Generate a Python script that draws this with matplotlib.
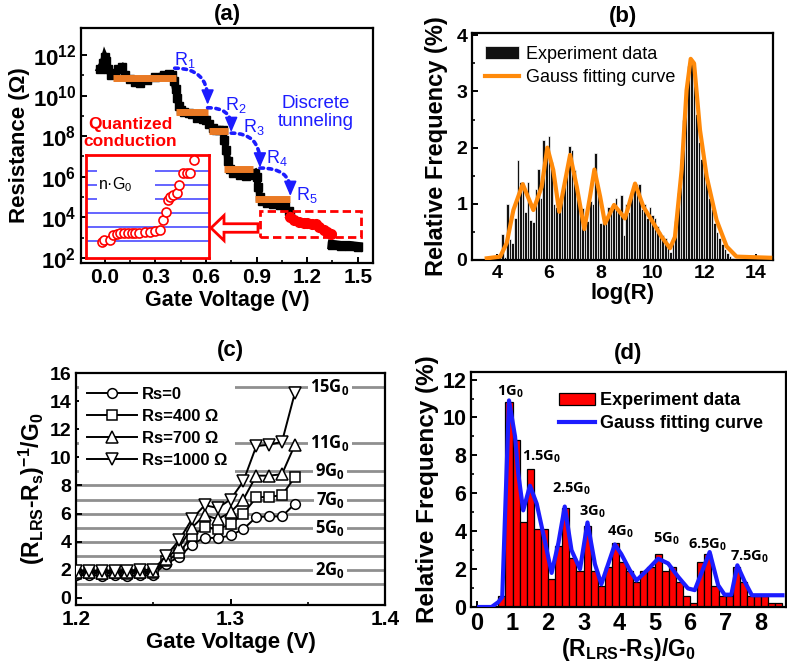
import matplotlib
matplotlib.use('Agg')
import matplotlib.pyplot as plt
import matplotlib.patches as mpatches
from matplotlib.ticker import MultipleLocator, NullFormatter, FormatStrFormatter
import numpy as np

plt.rcParams['font.family'] = ['Liberation Sans', 'DejaVu Sans']
plt.rcParams['font.weight'] = 'bold'
plt.rcParams['axes.labelweight'] = 'bold'
plt.rcParams['mathtext.default'] = 'regular'
plt.rcParams['axes.linewidth'] = 1.6
plt.rcParams['xtick.direction'] = 'in'
plt.rcParams['ytick.direction'] = 'in'
plt.rcParams['xtick.major.width'] = 1.4
plt.rcParams['ytick.major.width'] = 1.4
plt.rcParams['xtick.minor.width'] = 1.2
plt.rcParams['ytick.minor.width'] = 1.2
plt.rcParams['xtick.major.size'] = 4
plt.rcParams['ytick.major.size'] = 4
plt.rcParams['xtick.minor.size'] = 2.5
plt.rcParams['ytick.minor.size'] = 2.5

# ---------------- Panel (a) data ----------------
a_v = [-0.03, -0.01, 0.0, 0.01, 0.02, 0.04, 0.06, 0.08, 0.10, 0.12, 0.15, 0.18,
       0.21, 0.25, 0.30, 0.35, 0.38, 0.40, 0.41, 0.42, 0.43, 0.44, 0.45, 0.47,
       0.50, 0.52, 0.55, 0.58, 0.60, 0.62, 0.64, 0.66, 0.68, 0.70, 0.71, 0.72,
       0.73, 0.74, 0.76, 0.80, 0.84, 0.87, 0.89, 0.90, 0.91, 0.92, 0.93, 0.96,
       1.00, 1.04, 1.07, 1.09, 1.10]
a_logr = [11.3, 11.6, 11.9, 11.7, 11.3, 11.0, 11.1, 11.3, 11.4, 11.0, 10.8, 10.65,
          10.6, 10.75, 10.9, 11.0, 11.05, 11.0, 10.7, 10.3, 9.9, 9.5, 9.3, 9.2,
          9.15, 9.1, 8.9, 8.85, 8.8, 8.6, 8.4, 8.3, 8.3, 8.3, 7.8, 7.3,
          6.8, 6.4, 6.2, 6.1, 6.05, 6.1, 6.2, 6.0, 5.5, 5.0, 4.8, 4.7,
          4.65, 4.6, 4.55, 4.3, 4.1]
a_red_v = [1.10, 1.12, 1.15, 1.18, 1.20, 1.23, 1.25, 1.27, 1.30, 1.32, 1.34]
a_red_logr = [4.0, 3.85, 3.75, 3.73, 3.72, 3.68, 3.65, 3.5, 3.4, 3.3, 3.2]
a_tail_v = [1.35, 1.40, 1.45, 1.50]
a_tail_logr = [2.65, 2.6, 2.6, 2.55]
a_step_start = [0.05, 0.42, 0.62, 0.71, 0.89]
a_step_end = [0.425, 0.61, 0.73, 0.88, 1.10]
a_step_logr = [10.88, 9.18, 8.26, 6.38, 4.9]
a_xticks = [0.0, 0.3, 0.6, 0.9, 1.2, 1.5]
a_yticks_exp = [2, 4, 6, 8, 10, 12]
# tunneling arrows: start V, start logR, end V, end logR
a_arrows = [(0.415, 11.35, 0.61, 9.55), (0.61, 9.4, 0.75, 8.2),
            (0.75, 8.15, 0.92, 6.45), (0.92, 6.43, 1.10, 5.05)]
a_rlabels = ['R$_1$', 'R$_2$', 'R$_3$', 'R$_4$', 'R$_5$']
a_rlabel_pos = [(0.475, 11.75), (0.78, 9.55), (0.885, 8.45), (1.02, 6.9), (1.2, 5.1)]
# inset (quantized conduction)
inset_u = [0.13, 0.15, 0.195, 0.22, 0.25, 0.28, 0.31, 0.34, 0.37, 0.40, 0.43,
           0.48, 0.52, 0.56, 0.60, 0.63, 0.65, 0.67, 0.68, 0.71, 0.74, 0.76,
           0.79, 0.82, 0.845, 0.88]
inset_n = [0.96, 1.07, 1.1, 1.47, 1.54, 1.6, 1.6, 1.6, 1.6, 1.62, 1.62,
           1.7, 1.7, 1.75, 1.82, 2.48, 3.1, 3.9, 4.17, 4.3, 4.45, 5.0,
           5.86, 5.86, 5.86, 6.75]
inset_levels = [1, 2, 3, 4, 5, 6]

# ---------------- Panel (b) data ----------------
b_bins = [4.1, 4.2, 4.3, 4.4, 4.5, 4.6, 4.7, 4.8, 4.9, 5.0, 5.1, 5.2, 5.3, 5.4,
          5.5, 5.6, 5.7, 5.8, 5.9, 6.0, 6.1, 6.2, 6.3, 6.4, 6.5, 6.6, 6.7, 6.8,
          6.9, 7.0, 7.1, 7.2, 7.3, 7.4, 7.5, 7.6, 7.7, 7.8, 7.9, 8.0, 8.1, 8.2,
          8.3, 8.4, 8.5, 8.6, 8.7, 8.8, 8.9, 9.0, 9.1, 9.2, 9.3, 9.4, 9.5, 9.6,
          9.7, 9.8, 9.9, 10.0, 10.1, 10.2, 10.3, 10.4, 10.5, 10.6, 10.7, 10.8,
          10.9, 11.0, 11.1, 11.2, 11.3, 11.4, 11.5, 11.6, 11.7, 11.8, 11.9, 12.0,
          12.1, 12.2, 12.3, 12.4, 12.5, 12.6, 12.7, 12.8, 12.9, 13.0, 13.1, 13.2]
b_freq = [0.05, 0.47, 0.05, 1.0, 0.38, 0.31, 0.75, 1.78, 1.38, 1.38, 0.85, 1.39,
          0.72, 0.68, 1.27, 1.62, 1.1, 2.13, 1.9, 2.2, 1.75, 1.0, 0.95, 0.88,
          1.2, 1.35, 1.5, 2.02, 1.95, 1.6, 1.1, 0.85, 0.93, 0.55, 0.7, 1.05,
          1.0, 1.9, 1.25, 0.65, 0.65, 0.7, 0.95, 0.9, 1.0, 1.1, 0.85, 1.15,
          0.45, 1.0, 0.85, 1.2, 1.35, 1.35, 1.35, 0.9, 1.0, 0.75, 0.95, 0.8,
          0.75, 0.6, 0.5, 0.45, 0.4, 0.25, 0.15, 0.35, 0.7, 1.2, 1.8, 2.5,
          3.0, 3.45, 3.55, 3.3, 2.6, 2.1, 1.8, 1.6, 1.4, 1.1, 0.9, 0.65,
          0.5, 0.4, 0.28, 0.2, 0.12, 0.08, 0.04, 0.02]
b_fit_x = [3.6, 4.12, 4.37, 4.63, 4.99, 5.4, 5.72, 5.94, 6.17, 6.4, 6.82, 7.08,
           7.37, 7.59, 7.76, 7.98, 8.17, 8.52, 8.94, 9.33, 9.65, 9.97, 10.36,
           10.68, 10.87, 11.13, 11.32, 11.48, 11.61, 11.84, 12.1, 12.48, 12.87,
           13.25, 14.55]
b_fit_y = [0.03, 0.06, 0.3, 0.89, 1.35, 0.89, 1.3, 2.0, 1.6, 0.86, 1.87, 1.3,
           0.55, 1.13, 1.61, 1.13, 0.65, 0.98, 0.74, 1.36, 0.95, 0.71, 0.41,
           0.21, 0.41, 1.6, 3.02, 3.58, 3.5, 2.31, 1.48, 0.71, 0.24,
           0.06, 0.04]

# ---------------- Panel (c) data ----------------
c_v = [1.2, 1.2083, 1.2167, 1.225, 1.2333, 1.2417, 1.25, 1.2583, 1.2667, 1.275,
       1.2833, 1.2917, 1.30, 1.3083, 1.3167, 1.325, 1.3333, 1.3417]
c_rs0 = [1.6, 1.65, 1.55, 1.6, 1.55, 1.6, 1.65, 2.45, 2.9, 3.8,
         4.3, 4.25, 4.45, 4.9, 5.75, 5.8, 5.8, 6.7]
c_rs400 = [1.7, 1.75, 1.7, 1.75, 1.7, 1.75, 1.8, 2.6, 3.2, 4.4,
           5.05, 4.9, 5.25, 6.0, 7.15, 7.2, 7.3, 8.6]
c_rs700 = [1.85, 1.85, 1.8, 1.85, 1.85, 1.85, 1.9, 2.8, 3.6, 5.0,
           5.9, 5.6, 6.1, 7.0, 8.7, 8.7, 8.8, 10.9]
c_rs1000 = [1.95, 1.95, 1.9, 1.95, 1.95, 2.0, 2.0, 3.0, 4.1, 5.6,
            6.6, 6.4, 7.0, 8.3, 10.8, 10.9, 11.1, 14.6]
c_labels = ['Rs=0', 'Rs=400 Ω', 'Rs=700 Ω', 'Rs=1000 Ω']
c_levels = [1, 2, 3, 4, 5, 6, 7, 8, 9, 11, 15]
c_level_labels = [(15, '15G$_0$'), (11, '11G$_0$'), (9, '9G$_0$'),
                  (7, '7G$_0$'), (5, '5G$_0$'), (2, '2G$_0$')]

# ---------------- Panel (d) data ----------------
d_centers = [0.7, 0.9, 1.1, 1.3, 1.5, 1.7, 1.9, 2.1, 2.3, 2.5, 2.7, 2.9, 3.1,
             3.3, 3.5, 3.7, 3.9, 4.1, 4.3, 4.5, 4.7, 4.9, 5.1, 5.3, 5.5, 5.7,
             5.9, 6.1, 6.3, 6.5, 6.7, 6.9, 7.1, 7.3, 7.5, 7.7, 7.9, 8.1, 8.3, 8.5]
d_freq = [0.6, 10.8, 8.8, 4.5, 7.3, 4.1, 4.1, 1.5, 3.2, 5.2, 2.6, 1.9, 4.3,
          1.9, 1.1, 2.1, 3.4, 2.4, 1.9, 1.3, 1.9, 2.1, 2.8, 1.9, 2.1, 1.3,
          0.6, 0.2, 2.4, 2.8, 1.1, 0.6, 0.6, 2.1, 1.3, 0.6, 0.6, 0.6, 0.2, 0.2]
d_fit_x = [0.06, 0.41, 0.6, 0.71, 0.9, 1.07, 1.16, 1.3, 1.49, 1.68, 1.86, 2.1,
           2.29, 2.47, 2.66, 2.9, 3.11, 3.32, 3.5, 3.88, 4.06, 4.3, 4.49, 4.82,
           5.1, 5.38, 5.66, 5.94, 6.13, 6.55, 6.79, 6.97, 7.16, 7.33, 7.54,
           7.74, 8.6]
d_fit_y = [0.0, 0.0, 0.26, 0.53, 10.9, 9.0, 7.05, 5.1, 6.4, 5.45, 3.9, 1.8,
           3.37, 5.3, 3.0, 2.0, 4.46, 2.26, 1.2, 3.3, 2.8, 1.95, 1.4, 2.0,
           2.55, 2.3, 1.6, 0.98, 0.89, 2.9, 1.15, 0.65, 0.65, 2.2, 1.33,
           0.62, 0.62]
d_peak_labels = [(0.93, 11.33, '1G$_0$'), (1.82, 7.9, '1.5G$_0$'),
                 (2.66, 6.25, '2.5G$_0$'), (3.25, 5.0, '3G$_0$'),
                 (4.02, 3.96, '4G$_0$'), (5.33, 3.6, '5G$_0$'),
                 (6.5, 3.26, '6.5G$_0$'), (7.67, 2.65, '7.5G$_0$')]

W, H = 787, 667
fig = plt.figure(figsize=(W / 100, H / 100), dpi=100)


def box(l, t, r, b):
    return [l / W, 1 - b / H, (r - l) / W, (b - t) / H]


BLUE = '#1c1cff'
ORANGE_A = '#ea7a25'
ORANGE_B = '#ff8a0a'
GFONT = ['Open Sans', 'Liberation Sans']

# ================= Panel (a) =================
axa = fig.add_axes(box(81, 28, 373, 263))
axa.set_yscale('log')
axa.plot(a_v, [10 ** v for v in a_logr], color='black', lw=5, marker='s', ms=6,
         solid_joinstyle='miter', zorder=3)
axa.plot(a_tail_v, [10 ** v for v in a_tail_logr], color='black', lw=7,
         marker='s', ms=6, zorder=3)
axa.plot(a_red_v, [10 ** v for v in a_red_logr], color='red', lw=6, marker='o',
         ms=7, zorder=3)
axa.hlines([10 ** v for v in a_step_logr], a_step_start, a_step_end,
           color=ORANGE_A, lw=5, zorder=4)
for (x0, l0, x1, l1) in a_arrows:
    # dotted curved body
    body = mpatches.FancyArrowPatch((x0, 10 ** l0), (x1, 10 ** (l1 + 0.3)),
                                    connectionstyle='angle3,angleA=0,angleB=90',
                                    arrowstyle='-', color=BLUE, lw=2.6,
                                    linestyle=(0, (1.0, 1.3)), shrinkA=0,
                                    shrinkB=0, zorder=5)
    axa.add_patch(body)
    # solid arrow head pointing down
    head = mpatches.FancyArrowPatch((x1, 10 ** (l1 + 0.42)), (x1, 10 ** l1),
                                    arrowstyle='-|>,head_length=0.75,head_width=0.32',
                                    mutation_scale=12, color=BLUE, lw=1.2,
                                    shrinkA=0, shrinkB=0, zorder=5)
    axa.add_patch(head)
for lab, (x, l) in zip(a_rlabels, a_rlabel_pos):
    axa.text(x, 10 ** l, lab, color=BLUE, fontsize=13, fontweight='normal',
             ha='center', va='center')
axa.text(1.25, 10 ** 9.17, 'Discrete\ntunneling', color=BLUE, fontsize=13.5,
         fontweight='normal', ha='center', va='center', linespacing=1.1)
axa.text(0.15, 10 ** 8.15, 'Quantized\nconduction', color='red', fontsize=12.5,
         fontweight='bold', ha='center', va='center', linespacing=1.15)
rect = mpatches.Rectangle((0.92, 10 ** 3.02), 0.60, 10 ** 4.33 - 10 ** 3.02,
                          fill=False, edgecolor='red', lw=2,
                          linestyle=(0, (3, 1.5)), zorder=6)
axa.add_patch(rect)
axa.set_xlim(-0.14, 1.59)
axa.set_ylim(10 ** 1.75, 10 ** 13.33)
axa.set_xticks(a_xticks)
axa.xaxis.set_major_formatter(FormatStrFormatter('%.1f'))
axa.xaxis.set_minor_locator(MultipleLocator(0.15))
axa.set_yticks([10.0 ** e for e in a_yticks_exp])
axa.set_yticks([10.0 ** e for e in range(3, 13, 2)], minor=True)
axa.yaxis.set_minor_formatter(NullFormatter())
axa.tick_params(axis='x', labelsize=15)
axa.tick_params(axis='y', labelsize=16)
axa.set_xlabel('Gate Voltage (V)', fontsize=15.5, labelpad=2)
axa.set_ylabel('Resistance (Ω)', fontsize=16, labelpad=2)
axa.set_title('(a)', fontsize=16, fontweight='bold', pad=6)

# hollow arrow
harrow = mpatches.FancyArrow(2.58, (H - 228) / 100, -0.47, 0, width=0.085,
                             head_width=0.25, head_length=0.13,
                             length_includes_head=True,
                             transform=fig.dpi_scale_trans,
                             facecolor='white', edgecolor='red', lw=2, zorder=10)
fig.add_artist(harrow)

# inset
axi = fig.add_axes(box(86, 155, 209, 258))
axi.set_xlim(0, 1)
axi.set_ylim(-0.17, 7.1)
for lv in inset_levels:
    axi.axhline(lv, color='#3a3aff', lw=1.1, zorder=1)
axi.add_patch(mpatches.Rectangle((0.09, 3.72), 0.47, 2.6, facecolor='white',
                                 edgecolor='none', zorder=2))
axi.plot(inset_u, inset_n, 'o', mfc='white', mec='red', ms=6.5, mew=1.2, zorder=3)
axi.text(0.24, 5.0, 'n·G$_0$', fontsize=11.5, fontweight='normal',
         ha='center', va='center', zorder=4)
axi.set_xticks([])
axi.set_yticks([])
for s in axi.spines.values():
    s.set_color('red')
    s.set_linewidth(2)

# ================= Panel (b) =================
axb = fig.add_axes(box(472, 33, 773, 260))
b_bar = axb.bar(b_bins, b_freq, width=0.1, color='#111111', edgecolor='white',
                lw=0.5, zorder=2)
b_line, = axb.plot(b_fit_x, b_fit_y, color=ORANGE_B, lw=3, zorder=3,
                   solid_joinstyle='round')
axb.set_xlim(3.03, 14.66)
axb.set_ylim(0, 4.04)
axb.set_xticks([4, 6, 8, 10, 12, 14])
axb.set_yticks([0, 1, 2, 3, 4])
axb.yaxis.set_minor_locator(MultipleLocator(0.5))
axb.tick_params(labelsize=14)
axb.set_xlabel('log(R)', fontsize=16, labelpad=1)
axb.set_ylabel('Relative Frequency (%)', fontsize=17, labelpad=6)
axb.set_title('(b)', fontsize=16, fontweight='bold', pad=8)
axb.legend([b_bar, b_line], ['Experiment data', 'Gauss fitting curve'],
           loc='upper left', frameon=False,
           prop={'weight': 'normal', 'size': 13},
           handlelength=1.9, handletextpad=0.4, labelspacing=0.35,
           borderaxespad=0.3)

# ================= Panel (c) =================
axc = fig.add_axes(box(76, 373, 385, 605))
for lv in c_levels:
    axc.axhline(lv, color='#8f8f8f', lw=2, zorder=1)
for lv, txt in c_level_labels:
    axc.text(1.3645, lv, txt, fontsize=12, fontweight='bold', family=GFONT,
             ha='center', va='center', zorder=2,
             bbox=dict(facecolor='white', edgecolor='none', pad=1.5))
c_series = [c_rs0, c_rs400, c_rs700, c_rs1000]
c_markers = ['o', 's', '^', 'v']
c_ms = [7, 6.5, 8, 8]
for ser, mk, ms, lab in zip(c_series, c_markers, c_ms, c_labels):
    axc.plot(c_v, ser, color='black', lw=1.4, marker=mk, ms=ms, mfc='white',
             mec='black', mew=1.1, label=lab, zorder=4)
legc = axc.legend(loc='upper left', bbox_to_anchor=(0.0, 0.985), fontsize=12,
                  handlelength=3.0, handletextpad=0.3, labelspacing=0.42,
                  borderpad=0.45, borderaxespad=0.2, frameon=True,
                  facecolor='white', edgecolor='none', framealpha=1,
                  fancybox=False)
legc.set_zorder(3)
axc.set_xlim(1.2, 1.4)
axc.set_ylim(-0.5, 16)
axc.set_xticks([1.2, 1.3, 1.4])
axc.xaxis.set_major_formatter(FormatStrFormatter('%.1f'))
axc.xaxis.set_minor_locator(MultipleLocator(0.05))
axc.set_yticks(range(0, 17, 2))
axc.tick_params(axis='x', labelsize=15)
axc.tick_params(axis='y', labelsize=14)
axc.set_xlabel('Gate Voltage (V)', fontsize=16, labelpad=2)
axc.set_ylabel('(R$_{LRS}$-R$_s$)$^{-1}$/G$_0$', fontsize=16.5, labelpad=2)
axc.set_title('(c)', fontsize=16, fontweight='bold', pad=12)

# ================= Panel (d) =================
axd = fig.add_axes(box(471, 372, 786, 607))
d_bar = axd.bar(d_centers, d_freq, width=0.2, color='#ff0000', edgecolor='black',
                lw=0.9, zorder=2)
d_line, = axd.plot(d_fit_x, d_fit_y, color=BLUE, lw=3, zorder=3)
for x, y, t in d_peak_labels:
    axd.text(x, y, t, fontsize=10.5, fontweight='bold', family=GFONT,
             ha='center', va='center', zorder=4)
axd.set_xlim(-0.17, 8.7)
axd.set_ylim(0, 12.4)
axd.set_xticks(range(0, 9))
axd.set_yticks(range(0, 13, 2))
axd.yaxis.set_minor_locator(MultipleLocator(1))
axd.tick_params(axis='x', labelsize=17)
axd.tick_params(axis='y', labelsize=15.5)
axd.set_xlabel('(R$_{LRS}$-R$_S$)/G$_0$', fontsize=16.5, labelpad=1)
axd.set_ylabel('Relative Frequency (%)', fontsize=17.5, labelpad=2)
axd.set_title('(d)', fontsize=16, fontweight='bold', pad=9)
axd.legend([d_bar, d_line], ['Experiment data', 'Gauss fitting curve'],
           loc='upper right', frameon=False, fontsize=13, handlelength=2.0,
           handletextpad=0.3, labelspacing=0.3, borderaxespad=0.6,
           bbox_to_anchor=(0.985, 0.99))

fig.savefig('out.png', dpi=100)
